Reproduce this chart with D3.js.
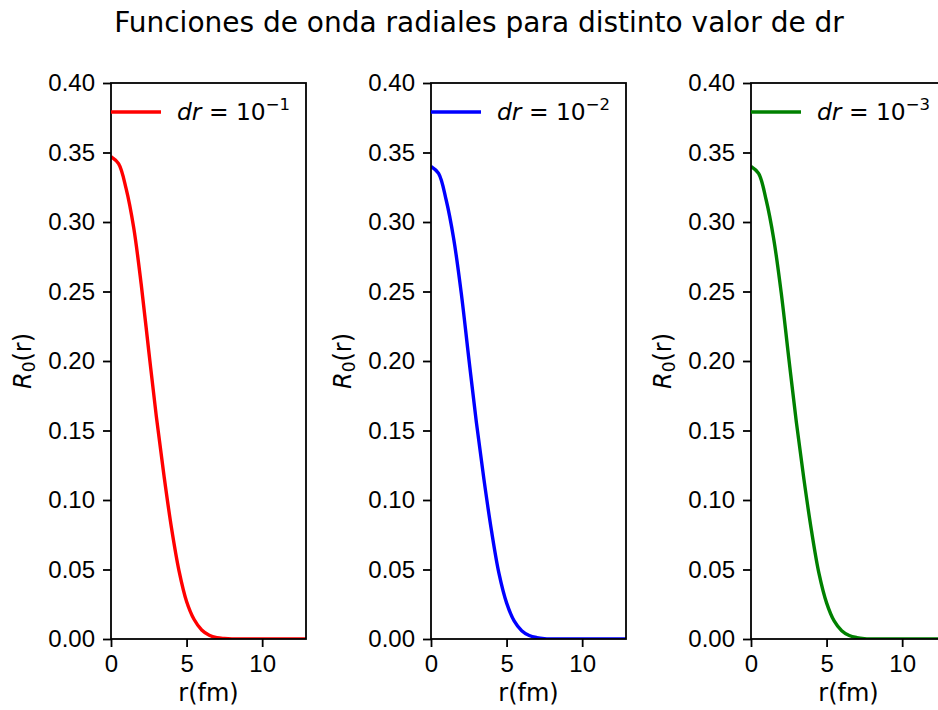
<!DOCTYPE html>
<html>
<head>
<meta charset="utf-8">
<script src="https://cdn.jsdelivr.net/npm/d3@7"></script>
<style>
  body { margin: 0; background: #fff; }
  svg { font-family: "DejaVu Sans", sans-serif; }
  .axis path, .axis line { stroke: #000; stroke-width: 1.8; }
  .axis text { font-size: 24px; fill: #000; }
</style>
</head>
<body>
<svg width="938" height="710"></svg>
<script>
// radial grid (fm)
const rValues = [0, 0.5, 1, 1.5, 2, 2.5, 3, 3.5, 4, 4.5, 5, 5.5, 6, 6.5, 7, 7.5, 8, 9, 10, 11, 12, 12.9];

// R0(r) for each step size
const wave1 = [0.347, 0.342, 0.324, 0.296, 0.255, 0.207, 0.160, 0.118, 0.080, 0.049, 0.027, 0.014, 0.0065, 0.0027, 0.001, 0.0004, 0.0001, 0, 0, 0, 0, 0];
const wave2 = [0.340, 0.335, 0.316, 0.288, 0.249, 0.202, 0.156, 0.115, 0.078, 0.047, 0.026, 0.013, 0.006, 0.0025, 0.001, 0.0003, 0.0001, 0, 0, 0, 0, 0];
const wave3 = [0.340, 0.335, 0.316, 0.288, 0.249, 0.202, 0.156, 0.115, 0.078, 0.047, 0.026, 0.013, 0.006, 0.0025, 0.001, 0.0003, 0.0001, 0, 0, 0, 0, 0];

const exponents = ["−1", "−2", "−3"];
const colors = ["#ff0000", "#0000ff", "#008000"];
const series = [wave1, wave2, wave3];

const xTicks = [0, 5, 10];
const yTicks = [0, 0.05, 0.10, 0.15, 0.20, 0.25, 0.30, 0.35, 0.40];

// panel geometry
const lefts = [111, 431, 751];
const panelTop = 83;
const width = 195;
const height = 556;

const svg = d3.select("svg");

// title
svg.append("text")
  .attr("x", 479)
  .attr("y", 32)
  .attr("text-anchor", "middle")
  .style("font-size", "28px")
  .text("Funciones de onda radiales para distinto valor de dr");

series.forEach(function(values, i) {
  const x = d3.scaleLinear().domain([0, 12.9]).range([0, width]);
  const y = d3.scaleLinear().domain([0, 0.40]).range([height, 0]);

  const g = svg.append("g")
    .attr("transform", "translate(" + lefts[i] + "," + panelTop + ")");

  const line = d3.line()
    .curve(d3.curveCatmullRom.alpha(0.5))
    .x(function(d, j) { return x(rValues[j]); })
    .y(function(d) { return y(d); });

  // clip to plot area
  g.append("clipPath")
    .attr("id", "clip" + i)
    .append("rect")
    .attr("width", width)
    .attr("height", height);

  g.append("path")
    .datum(values)
    .attr("clip-path", "url(#clip" + i + ")")
    .attr("fill", "none")
    .attr("stroke", colors[i])
    .attr("stroke-width", 3.4)
    .attr("d", line);

  // frame
  g.append("rect")
    .attr("width", width)
    .attr("height", height)
    .attr("fill", "none")
    .attr("stroke", "#000")
    .attr("stroke-width", 1.8);

  g.append("g")
    .attr("class", "axis")
    .attr("transform", "translate(0," + height + ")")
    .call(d3.axisBottom(x).tickValues(xTicks).tickSize(8).tickPadding(8).tickFormat(d3.format("d")))
    .call(function(a) { a.select(".domain").remove(); });

  g.append("g")
    .attr("class", "axis")
    .call(d3.axisLeft(y).tickValues(yTicks).tickSize(8).tickPadding(8).tickFormat(d3.format(".2f")))
    .call(function(a) { a.select(".domain").remove(); });

  // axis labels
  g.append("text")
    .attr("x", width / 2)
    .attr("y", height + 62)
    .attr("text-anchor", "middle")
    .style("font-size", "24px")
    .text("r(fm)");

  const yl = g.append("text")
    .attr("transform", "translate(-80," + (height / 2) + ") rotate(-90)")
    .attr("text-anchor", "middle")
    .style("font-size", "24px");
  yl.append("tspan").style("font-style", "italic").text("R");
  yl.append("tspan").attr("dy", 4).style("font-size", "17px").text("0");
  yl.append("tspan").attr("dy", -4).text("(r)");

  // legend
  g.append("line")
    .attr("x1", 0)
    .attr("x2", 50)
    .attr("y1", 29)
    .attr("y2", 29)
    .attr("stroke", colors[i])
    .attr("stroke-width", 3.4);

  const lt = g.append("text")
    .attr("x", 66)
    .attr("y", 37)
    .style("font-size", "23.4px");
  lt.append("tspan").style("font-style", "italic").text("dr");
  lt.append("tspan").text(" = 10");
  lt.append("tspan").attr("dy", -10).style("font-size", "16.5px").text(exponents[i]);
});
</script>
</body>
</html>
